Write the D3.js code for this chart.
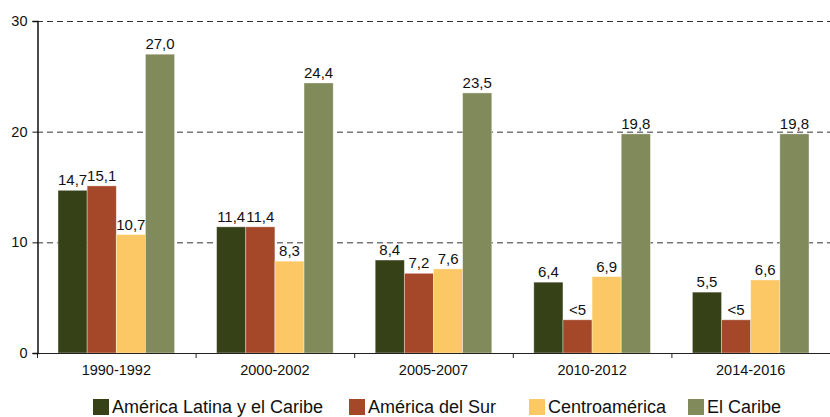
<!DOCTYPE html>
<html>
<head>
<meta charset="utf-8">
<script src="https://cdn.jsdelivr.net/npm/d3@7"></script>
<style>
  body { margin: 0; background: #fff; }
  svg { font-family: "Liberation Sans", Arial, sans-serif; }
</style>
</head>
<body>
<div class="chart"></div>
<script>
var periods = ["1990-1992", "2000-2002", "2005-2007", "2010-2012", "2014-2016"];
var seriesNames = ["América Latina y el Caribe", "América del Sur", "Centroamérica", "El Caribe"];
var latinAmerica = [14.7, 11.4, 8.4, 6.4, 5.5];
var southAmerica = [15.1, 11.4, 7.2, 3.0, 3.0];
var centralAmerica = [10.7, 8.3, 7.6, 6.9, 6.6];
var caribbean = [27.0, 24.4, 23.5, 19.8, 19.8];
var southLabels = ["15,1", "11,4", "7,2", "<5", "<5"];
var yTicks = [0, 10, 20, 30];

var colours = ["#374117", "#a5482a", "#fcc865", "#818a5a"];

var series = [latinAmerica, southAmerica, centralAmerica, caribbean];

function labelFor(s, i) {
    if (s === 1) return southLabels[i];
    return series[s][i].toFixed(1).replace(".", ",");
}

var margins = { top: 21, left: 37, right: 0, bottom: 64 };
var width = 830 - margins.left - margins.right;
var height = 417 - margins.top - margins.bottom;

var svg = d3.select('.chart')
    .append('svg')
    .attr('width', 830)
    .attr('height', 417)
    .append('g')
    .attr('transform', 'translate(' + margins.left + ',' + margins.top + ')');

var xScale = d3.scaleBand()
    .domain(periods)
    .range([0, width])
    .paddingInner(0.265)
    .paddingOuter(0.1325);

var xInner = d3.scaleBand()
    .domain(d3.range(series.length))
    .range([0, xScale.bandwidth()]);

var yScale = d3.scaleLinear()
    .domain([0, 30])
    .range([height, 0]);

// gridlines
svg.append('g')
    .selectAll('line')
    .data(yTicks.filter(d => d > 0))
    .enter()
    .append('line')
    .attr('x1', 0)
    .attr('x2', width)
    .attr('y1', d => yScale(d) + 0.5)
    .attr('y2', d => yScale(d) + 0.5)
    .attr('stroke', '#333')
    .attr('stroke-width', 1)
    .attr('stroke-dasharray', '6,4');

var rows = periods.map(function (p, i) {
    return series.map(function (vals, s) {
        return { period: p, s: s, i: i, value: vals[i] };
    });
});

var groups = svg.selectAll('g.period')
    .data(rows)
    .enter()
    .append('g')
    .attr('class', 'period')
    .attr('transform', (d, i) => 'translate(' + xScale(periods[i]) + ',0)');

groups.selectAll('rect')
    .data(d => d)
    .enter()
    .append('rect')
    .attr('x', d => xInner(d.s))
    .attr('y', d => yScale(d.value))
    .attr('width', xInner.bandwidth())
    .attr('height', d => height - yScale(d.value))
    .attr('fill', d => colours[d.s])
    .attr('stroke', 'rgba(255,255,255,0.45)')
    .attr('stroke-width', 0.8);

groups.selectAll('text')
    .data(d => d)
    .enter()
    .append('text')
    .attr('x', d => xInner(d.s) + xInner.bandwidth() / 2)
    .attr('y', d => yScale(d.value) - 5)
    .attr('text-anchor', 'middle')
    .style('font-size', '15px')
    .style('fill', '#111')
    .text(d => labelFor(d.s, d.i));

// x axis
var xAxisG = svg.append('g')
    .attr('transform', 'translate(0,' + height + ')');
xAxisG.append('line')
    .attr('x1', 0).attr('x2', width)
    .attr('y1', 0.5).attr('y2', 0.5)
    .attr('stroke', '#222');
var step = xScale.step();
xAxisG.selectAll('line.tick')
    .data(d3.range(periods.length))
    .enter()
    .append('line')
    .attr('class', 'tick')
    .attr('x1', d => xScale(periods[d]) - xScale.paddingOuter() * step + 0.5)
    .attr('x2', d => xScale(periods[d]) - xScale.paddingOuter() * step + 0.5)
    .attr('y1', 0).attr('y2', 5)
    .attr('stroke', '#222');
xAxisG.selectAll('text')
    .data(periods)
    .enter()
    .append('text')
    .attr('x', d => xScale(d) + xScale.bandwidth() / 2)
    .attr('y', 22)
    .attr('text-anchor', 'middle')
    .style('font-size', '14.5px')
    .style('fill', '#111')
    .text(d => d);

// y axis
var yAxis = d3.axisLeft(yScale)
    .tickValues(yTicks)
    .tickSize(5)
    .tickPadding(5)
    .tickFormat(d3.format('d'));
var yAxisG = svg.append('g')
    .attr('transform', 'translate(0.5,0)')
    .call(yAxis);
yAxisG.select('.domain').attr('stroke', '#111').attr('stroke-width', 1.5);
yAxisG.selectAll('.tick line').attr('stroke', '#111');
yAxisG.selectAll('.tick text')
    .style('font-size', '14.5px')
    .style('font-family', '"Liberation Sans", Arial, sans-serif')
    .attr('fill', '#111');

// legend
var legendX = [93, 349, 529, 688];
var legend = d3.select('svg').append('g');
seriesNames.forEach(function (name, i) {
    legend.append('rect')
        .attr('x', legendX[i])
        .attr('y', 399)
        .attr('width', 16)
        .attr('height', 16)
        .attr('fill', colours[i]);
    legend.append('text')
        .attr('x', legendX[i] + 19)
        .attr('y', 413)
        .style('font-size', '18px')
        .style('fill', '#111')
        .text(name);
});
</script>
</body>
</html>
